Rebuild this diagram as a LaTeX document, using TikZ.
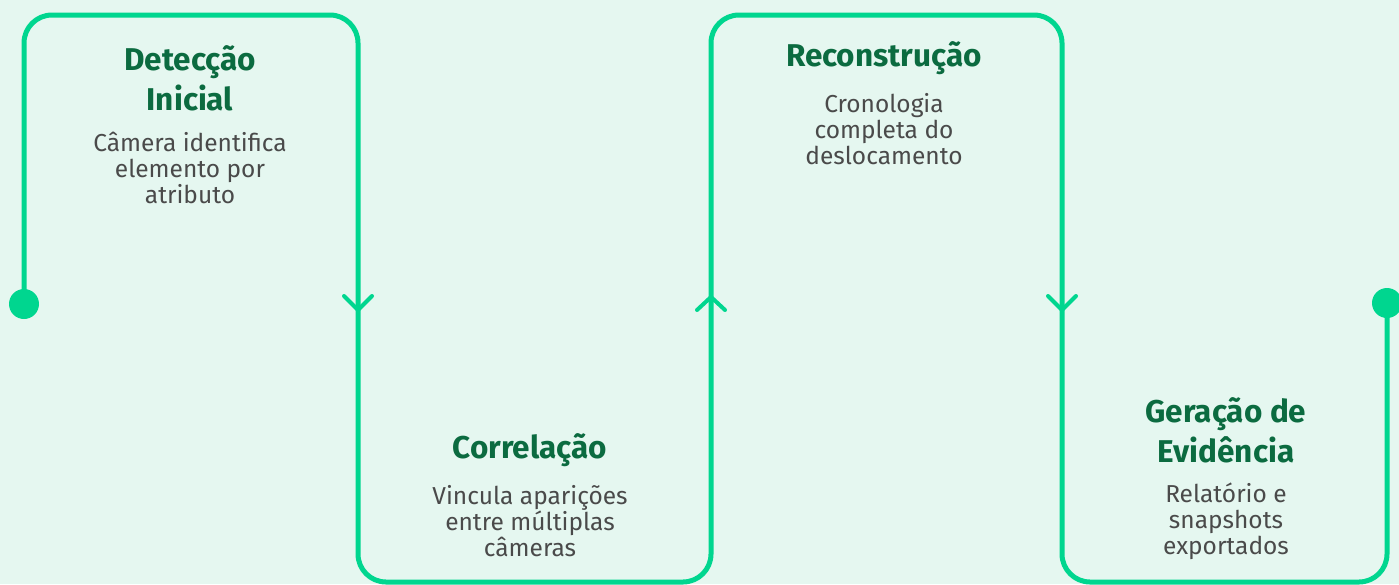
\documentclass[tikz,border=0pt]{standalone}
\usepackage{fontspec}
\setmainfont{Fira Sans}
\usetikzlibrary{positioning, calc}

\definecolor{bgmint}{HTML}{E5F7F0}
\definecolor{flowgreen}{HTML}{00D68F}
\definecolor{titlegreen}{HTML}{0B6B40}
\definecolor{bodygray}{HTML}{4A4A4A}

\tikzset{
    flow/.style={line width=5pt, draw=flowgreen, line cap=round, line join=round},
    stagetitle/.style={align=center, text=titlegreen, font=\fontsize{31.5}{40}\selectfont\bfseries},
    stagetext/.style={align=center, text=bodygray, font=\fontsize{24.5}{26}\selectfont},
    chevron/.style={line width=4pt, draw=flowgreen, line cap=round, line join=round}
}

\begin{document}
\begin{tikzpicture}[x=1pt, y=-1pt]
    % Define the background as a rectangle
    \fill[bgmint] (0,0) rectangle (1399,584);
    \useasboundingbox (0,0) rectangle (1399,584);
    % Start and end dots
    \node[circle, fill=flowgreen, minimum size=30pt, inner sep=0pt] (start) at (24,304) {};
    \node[circle, fill=flowgreen, minimum size=30pt, inner sep=0pt] (finish) at (1387,303) {};
    % Corners of the path
    \coordinate (c1) at (24,15);
    \coordinate (c2) at (358,15);
    \coordinate (c3) at (358,582);
    \coordinate (c4) at (711,582);
    \coordinate (c5) at (711,15);
    \coordinate (c6) at (1062,15);
    \coordinate (c7) at (1062,582);
    \coordinate (c8) at (1387,582);
    % Draw the path
    \draw[flow, rounded corners=28pt] (start.center) -- (c1) -- (c2) -- (c3) -- (c4) -- (c5) -- (c6) -- (c7) -- (c8) -- (finish.center);
    % Direction marks
    \coordinate (m1) at (358,310);
    \coordinate (m2) at (711,297);
    \coordinate (m3) at (1062,310);
    \draw[chevron] ($(m1)+(-14,-14)$) -- (m1) -- ($(m1)+(14,-14)$);
    \draw[chevron] ($(m2)+(-14,13)$) -- (m2) -- ($(m2)+(14,13)$);
    \draw[chevron] ($(m3)+(-14,-14)$) -- (m3) -- ($(m3)+(14,-14)$);
    % labels
    \node[stagetitle] (t1) at (190,78) {Detecção\\Inicial};
    \node[stagetext] (b1) at (190,168) {Câmera identifica\\elemento por\\atributo};
    \node[stagetitle] (t2) at (530,450) {Correlação};
    \node[stagetext] (b2) at (530,521) {Vincula aparições\\entre múltiplas\\câmeras};
    \node[stagetitle] (t3) at (884,58) {Reconstrução};
    \node[stagetext] (b3) at (884,129) {Cronologia\\completa do\\deslocamento};
    \node[stagetitle] (t4) at (1226,430) {Geração de\\Evidência};
    \node[stagetext] (b4) at (1226,521) {Relatório e\\snapshots\\exportados};
\end{tikzpicture}
\end{document}
